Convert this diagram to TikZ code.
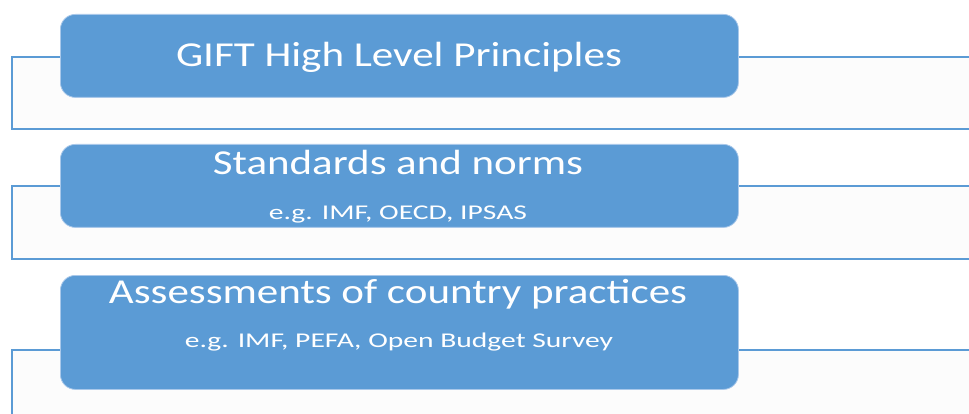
\documentclass[tikz,border=0pt]{standalone}
\usepackage{fontspec}
\usepackage{graphicx}
\setmainfont{Carlito}
\definecolor{boxblue}{HTML}{5B9BD5}
\definecolor{boxedge}{HTML}{A9C8EA}
\definecolor{bgfill}{HTML}{FCFCFC}
\begin{document}
\begin{tikzpicture}[x=1pt,y=-1pt,
  bgrect/.style={draw=boxblue, line width=2pt, fill=bgfill, anchor=north west, inner sep=0pt},
  mainbox/.style={draw=boxedge, line width=0.8pt, fill=boxblue, rounded corners=15pt, anchor=north west, inner sep=0pt, minimum width=678pt},
  titletext/.style={text=white, anchor=base, inner sep=0pt, font=\fontsize{35}{40}\selectfont},
  subtext/.style={text=white, anchor=base, inner sep=0pt, font=\fontsize{21}{25}\selectfont}]
\useasboundingbox (0,0) rectangle (969,414);
\fill[white] (0,0) rectangle (969,414);
\begin{scope}
\clip (0,0) rectangle (969,414);
% background strips
\node[bgrect, minimum width=990pt, minimum height=72pt] (bg1) at (11,56) {};
\node[bgrect, minimum width=990pt, minimum height=73pt] (bg2) at (11,185) {};
\node[bgrect, minimum width=990pt, minimum height=80pt] (bg3) at (11,349) {};
% main boxes
\node[mainbox, minimum height=83pt] (box1) at (60,14) {};
\node[mainbox, minimum height=83pt] (box2) at (60,144) {};
\node[mainbox, minimum height=114pt] (box3) at (60,275) {};
% texts
\node[titletext] (t1) at (399,67) {\resizebox{446pt}{\height}{GIFT High Level Principles}};
\node[titletext] (t2) at (398,175) {\resizebox{370pt}{\height}{Standards and norms}};
\node[subtext] (s2) at (398,220) {\resizebox{258pt}{\height}{e.g. IMF, OECD, IPSAS}};
\node[titletext] (t3) at (398,303) {\resizebox{578pt}{\height}{Assessments of country practices}};
\node[subtext] (s3) at (399,347) {\resizebox{428pt}{\height}{e.g. IMF, PEFA, Open Budget Survey}};
\end{scope}
\end{tikzpicture}
\end{document}
